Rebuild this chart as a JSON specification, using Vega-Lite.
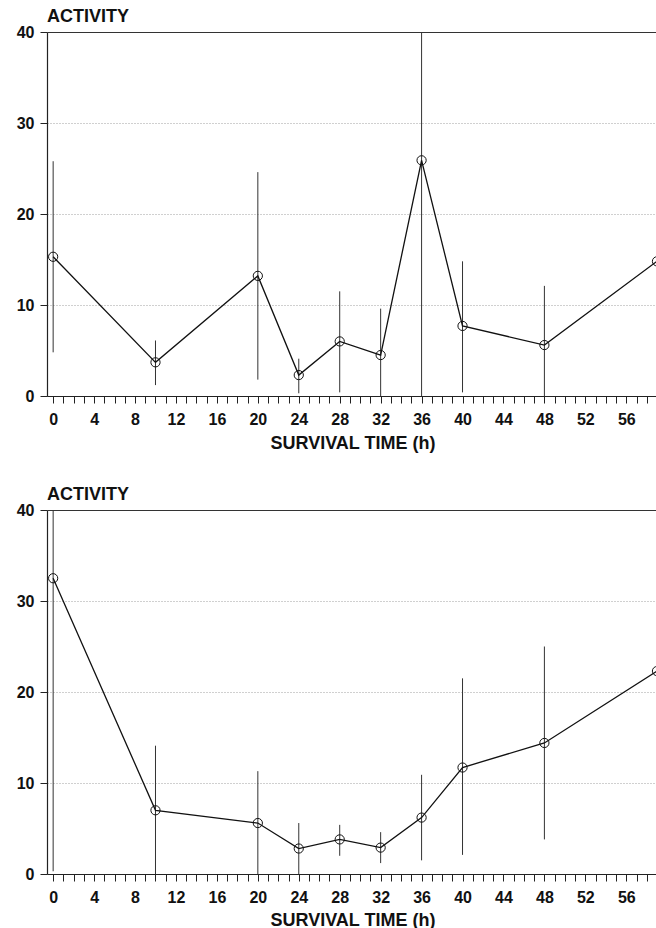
{
  "$schema": "https://vega.github.io/schema/vega-lite/v6.json",
  "padding": {"left": 16, "right": 0, "top": 8, "bottom": 0},
  "background": "white",
  "config": {
    "font": "Liberation Sans",
    "view": {"stroke": null},
    "axis": {
      "labelFont": "Liberation Sans", "labelFontSize": 16, "labelFontWeight": "bold", "labelColor": "#111",
      "domainColor": "#222", "domainWidth": 1.2, "tickColor": "#222", "tickSize": 7, "tickWidth": 1,
      "titleFont": "Liberation Sans", "titleFontSize": 18, "titleFontWeight": "bold", "titleColor": "#111"
    },
    "axisY": {
      "title": null, "grid": true, "labelPadding": 6,
      "gridDash": {"condition": {"test": "datum.value === 40", "value": []}, "value": [1, 2]},
      "gridColor": {"condition": {"test": "datum.value === 40", "value": "#333"}, "value": "#888"},
      "gridWidth": {"condition": {"test": "datum.value === 40", "value": 1.2}, "value": 0.8}
    },
    "title": {"font": "Liberation Sans", "fontSize": 18, "fontWeight": "bold", "anchor": "start", "frame": "group", "color": "#111", "offset": -2},
    "concat": {"spacing": 34}
  },
  "datasets": {
    "top": [
      {"t": 0, "a": 15.3, "lo": 4.8, "hi": 25.8},
      {"t": 10, "a": 3.7, "lo": 1.2, "hi": 6.1},
      {"t": 20, "a": 13.2, "lo": 1.8, "hi": 24.6},
      {"t": 24, "a": 2.3, "lo": 0.3, "hi": 4.1},
      {"t": 28, "a": 6.0, "lo": 0.4, "hi": 11.5},
      {"t": 32, "a": 4.5, "lo": 0, "hi": 9.6},
      {"t": 36, "a": 25.9, "lo": 0, "hi": 40},
      {"t": 40, "a": 7.7, "lo": 0.4, "hi": 14.8},
      {"t": 48, "a": 5.6, "lo": 0, "hi": 12.1},
      {"t": 59, "a": 14.8, "lo": 3.3, "hi": 26.3}
    ],
    "bottom": [
      {"t": 0, "a": 32.5, "lo": 0.3, "hi": 40},
      {"t": 10, "a": 7.0, "lo": 0, "hi": 14.1},
      {"t": 20, "a": 5.6, "lo": 0, "hi": 11.3},
      {"t": 24, "a": 2.8, "lo": 0, "hi": 5.6},
      {"t": 28, "a": 3.8, "lo": 2.0, "hi": 5.4},
      {"t": 32, "a": 2.9, "lo": 1.2, "hi": 4.6},
      {"t": 36, "a": 6.2, "lo": 1.5, "hi": 10.9},
      {"t": 40, "a": 11.7, "lo": 2.1, "hi": 21.5},
      {"t": 48, "a": 14.4, "lo": 3.8, "hi": 25.0},
      {"t": 59, "a": 22.3, "lo": null, "hi": null}
    ]
  },
  "vconcat": [
    {
      "title": {"text": "ACTIVITY"},
      "width": 611, "height": 364,
      "data": {"name": "top"},
      "encoding": {
        "x": {"field": "t", "type": "quantitative",
          "scale": {"domain": [-0.6, 59.1], "nice": false, "zero": false},
          "axis": {"title": "SURVIVAL TIME (h)", "values": [0,1,2,3,4,5,6,7,8,9,10,11,12,13,14,15,16,17,18,19,20,21,22,23,24,25,26,27,28,29,30,31,32,33,34,35,36,37,38,39,40,41,42,43,44,45,46,47,48,49,50,51,52,53,54,55,56,57,58,59],
            "labelExpr": "datum.value % 4 === 0 ? datum.label : ''", "labelOverlap": false, "labelFlush": false, "grid": false, "labelPadding": 8, "titlePadding": 7}}
      },
      "layer": [
        {"mark": {"type": "rule", "stroke": "#333", "strokeWidth": 1},
          "encoding": {
            "y": {"field": "lo", "type": "quantitative", "title": null, "scale": {"domain": [0, 40], "nice": false}, "axis": {"values": [0, 10, 20, 30, 40]}},
            "y2": {"field": "hi"}
          }},
        {"mark": {"type": "line", "color": "#111", "strokeWidth": 1.3},
          "encoding": {"y": {"field": "a", "type": "quantitative", "title": null, "axis": {"values": [0, 10, 20, 30, 40]}}}},
        {"mark": {"type": "point", "shape": "circle", "filled": false, "size": 85, "stroke": "#111", "strokeWidth": 1, "opacity": 1, "clip": true},
          "encoding": {"y": {"field": "a", "type": "quantitative", "title": null, "axis": {"values": [0, 10, 20, 30, 40]}}}}
      ]
    },
    {
      "title": {"text": "ACTIVITY"},
      "width": 611, "height": 364,
      "data": {"name": "bottom"},
      "encoding": {
        "x": {"field": "t", "type": "quantitative",
          "scale": {"domain": [-0.6, 59.1], "nice": false, "zero": false},
          "axis": {"title": "SURVIVAL TIME (h)", "values": [0,1,2,3,4,5,6,7,8,9,10,11,12,13,14,15,16,17,18,19,20,21,22,23,24,25,26,27,28,29,30,31,32,33,34,35,36,37,38,39,40,41,42,43,44,45,46,47,48,49,50,51,52,53,54,55,56,57,58,59],
            "labelExpr": "datum.value % 4 === 0 ? datum.label : ''", "labelOverlap": false, "labelFlush": false, "grid": false, "labelPadding": 8, "titlePadding": 6}}
      },
      "layer": [
        {"mark": {"type": "rule", "stroke": "#333", "strokeWidth": 1},
          "encoding": {
            "y": {"field": "lo", "type": "quantitative", "title": null, "scale": {"domain": [0, 40], "nice": false}, "axis": {"values": [0, 10, 20, 30, 40]}},
            "y2": {"field": "hi"}
          }},
        {"mark": {"type": "line", "color": "#111", "strokeWidth": 1.3},
          "encoding": {"y": {"field": "a", "type": "quantitative", "title": null, "axis": {"values": [0, 10, 20, 30, 40]}}}},
        {"mark": {"type": "point", "shape": "circle", "filled": false, "size": 85, "stroke": "#111", "strokeWidth": 1, "opacity": 1, "clip": true},
          "encoding": {"y": {"field": "a", "type": "quantitative", "title": null, "axis": {"values": [0, 10, 20, 30, 40]}}}}
      ]
    }
  ]
}
